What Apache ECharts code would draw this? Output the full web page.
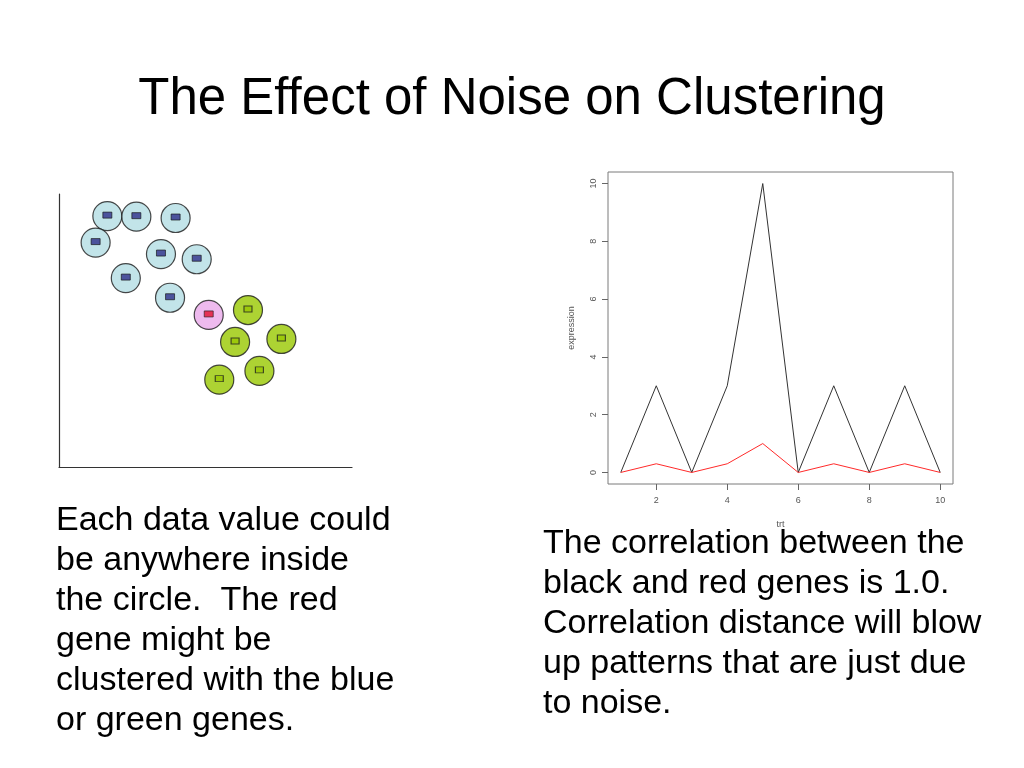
<!DOCTYPE html>
<html>
<head>
<meta charset="utf-8">
<script src="https://cdn.jsdelivr.net/npm/echarts@6/dist/echarts.min.js"></script>
<style>
html,body{margin:0;padding:0;background:#fff;}
#main{width:1024px;height:768px;}
</style>
</head>
<body>
<div id="main"></div>
<script>
// ---- Data ----
const titleText = 'The Effect of Noise on Clustering';
const leftText = ['Each data value could', 'be anywhere inside', 'the circle.  The red', 'gene might be', 'clustered with the blue', 'or green genes.'];
const rightText = ['The correlation between the', 'black and red genes is 1.0.', 'Correlation distance will blow', 'up patterns that are just due', 'to noise.'];

// Line chart (R plot): trt vs expression
const trt = [1, 2, 3, 4, 5, 6, 7, 8, 9, 10];
const blackGene = [0, 3, 0, 3, 10, 0, 3, 0, 3, 0];
const redGene = [0, 0.3, 0, 0.3, 1, 0, 0.3, 0, 0.3, 0];
const xTicks = [2, 4, 6, 8, 10];
const yTicks = [0, 2, 4, 6, 8, 10];

// Cluster diagram (arbitrary 0-10 units)
const blueGenes = [[1.65, 9.19], [2.64, 9.17], [3.98, 9.12], [1.25, 8.22], [3.48, 7.80], [4.70, 7.61], [2.28, 6.92], [3.79, 6.20]];
const redPoint = [[5.11, 5.57]];
const greenGenes = [[6.45, 5.75], [6.01, 4.58], [7.59, 4.69], [6.84, 3.52], [5.47, 3.20]];

const FONT = '"Liberation Sans", Arial, Helvetica, sans-serif';
const chart = echarts.init(document.getElementById('main'), null, {renderer: 'canvas'});

const circleStyle = (c) => ({color: c, borderColor: '#1a1a1a', borderWidth: 1.2});
const option = {
  backgroundColor: '#ffffff',
  animation: false,
  title: {
    text: titleText, left: 'center', top: 69,
    textStyle: {fontFamily: FONT, fontSize: 51, fontWeight: 'normal', color: '#000'}
  },
  grid: [
    {left: 608, top: 172, width: 345, height: 312, show: true, borderColor: '#7a7a7a', borderWidth: 1, backgroundColor: 'transparent'},
    {left: 59, top: 194, width: 293, height: 273}
  ],
  xAxis: [
    {
      gridIndex: 0, type: 'value', min: 0.64, max: 10.36,
      axisLine: {show: false, onZero: false},
      splitLine: {show: false},
      axisTick: {show: true, customValues: xTicks, length: 6, lineStyle: {color: '#666'}},
      axisLabel: {customValues: xTicks, margin: 12, fontSize: 9, color: '#555', fontFamily: FONT},
      name: 'trt', nameLocation: 'middle', nameGap: 36,
      nameTextStyle: {fontSize: 9, color: '#555', fontFamily: FONT}
    },
    {
      gridIndex: 1, type: 'value', min: 0, max: 10,
      axisLine: {show: true, onZero: false, lineStyle: {color: '#333', width: 1.2}},
      axisTick: {show: false}, axisLabel: {show: false}, splitLine: {show: false}
    }
  ],
  yAxis: [
    {
      gridIndex: 0, type: 'value', min: -0.4, max: 10.4,
      axisLine: {show: false, onZero: false},
      splitLine: {show: false},
      axisTick: {show: true, customValues: yTicks, length: 6, lineStyle: {color: '#666'}},
      axisLabel: {customValues: yTicks, rotate: 90, margin: 10, fontSize: 9, color: '#555', fontFamily: FONT},
      name: 'expression', nameLocation: 'middle', nameRotate: 90, nameGap: 32,
      nameTextStyle: {fontSize: 9, color: '#555', fontFamily: FONT}
    },
    {
      gridIndex: 1, type: 'value', min: 0, max: 10,
      axisLine: {show: true, onZero: false, lineStyle: {color: '#333', width: 1.2}},
      axisTick: {show: false}, axisLabel: {show: false}, splitLine: {show: false}
    }
  ],
  series: [
    {
      type: 'line', xAxisIndex: 0, yAxisIndex: 0, data: trt.map((t, i) => [t, blackGene[i]]),
      symbol: 'none', lineStyle: {color: '#333', width: 1}
    },
    {
      type: 'line', xAxisIndex: 0, yAxisIndex: 0, data: trt.map((t, i) => [t, redGene[i]]),
      symbol: 'none', lineStyle: {color: '#ff2a2a', width: 1}
    },
    {type: 'scatter', xAxisIndex: 1, yAxisIndex: 1, data: blueGenes, symbol: 'circle', symbolSize: 29, itemStyle: circleStyle('#b3dde3')},
    {type: 'scatter', xAxisIndex: 1, yAxisIndex: 1, data: redPoint, symbol: 'circle', symbolSize: 29, itemStyle: circleStyle('#eaa9ea')},
    {type: 'scatter', xAxisIndex: 1, yAxisIndex: 1, data: greenGenes, symbol: 'circle', symbolSize: 29, itemStyle: circleStyle('#99c800')},
    {type: 'scatter', xAxisIndex: 1, yAxisIndex: 1, data: blueGenes, symbol: 'rect', symbolSize: [9, 6], symbolOffset: [0, -1], itemStyle: {color: '#2e2e8a', borderColor: '#111', borderWidth: 0.8}},
    {type: 'scatter', xAxisIndex: 1, yAxisIndex: 1, data: redPoint, symbol: 'rect', symbolSize: [9, 6], symbolOffset: [0, -1], itemStyle: {color: '#e2102e', borderColor: '#222', borderWidth: 0.8}},
    {type: 'scatter', xAxisIndex: 1, yAxisIndex: 1, data: greenGenes, symbol: 'rect', symbolSize: [8, 6], symbolOffset: [0, -1], itemStyle: {color: '#99c800', borderColor: '#222', borderWidth: 1}}
  ],
  graphic: [
    {type: 'text', left: 56, top: 501, style: {text: leftText.join('\n'), fontSize: 34, lineHeight: 40, fontFamily: FONT, fill: '#000'}},
    {type: 'text', left: 543, top: 524, style: {text: rightText.join('\n'), fontSize: 34, lineHeight: 40, fontFamily: FONT, fill: '#000'}}
  ]
};
chart.setOption(option);
</script>
</body>
</html>
